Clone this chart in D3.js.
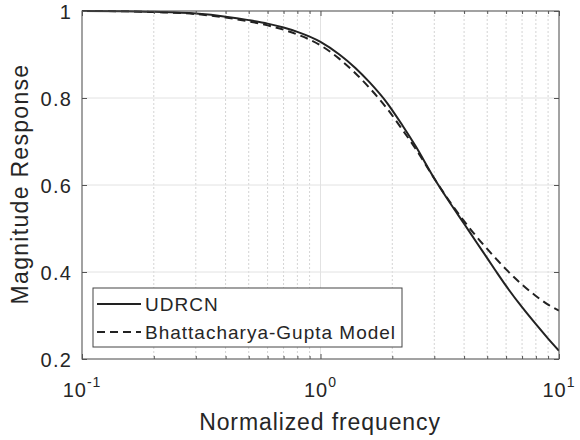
<!DOCTYPE html>
<html>
<head>
<meta charset="utf-8">
<script src="https://cdn.jsdelivr.net/npm/d3@7"></script>
<style>
body { margin: 0; background: #fff; }
text { font-family: "Liberation Sans", Arial, sans-serif; fill: #262626; }
</style>
</head>
<body>
<svg width="580" height="440"></svg>
<script>
// values
var freq    = [0.1, 0.15, 0.2, 0.3, 0.4, 0.5, 0.6, 0.7, 0.8, 1.0, 1.2, 1.4, 1.6, 1.9, 2.2, 2.5, 3.0, 3.5, 4.0, 4.5, 5.0, 5.5, 6.0, 7.0, 8.0, 9.0, 10]
var udrcn   = [1.000, 0.9995, 0.998, 0.994, 0.987, 0.979, 0.971, 0.962, 0.952, 0.929, 0.900, 0.869, 0.837, 0.789, 0.738, 0.690, 0.615, 0.558, 0.511, 0.469, 0.432, 0.398, 0.368, 0.319, 0.280, 0.247, 0.219]
var bgModel = [1.000, 0.9995, 0.9975, 0.993, 0.985, 0.976, 0.967, 0.957, 0.946, 0.921, 0.890, 0.857, 0.824, 0.776, 0.728, 0.684, 0.615, 0.560, 0.517, 0.482, 0.453, 0.428, 0.406, 0.371, 0.345, 0.325, 0.311]

var seriesNames = ["UDRCN", "Bhattacharya-Gupta Model"]
var xTicks = [0.1, 1, 10]
var xTickExp = ["-1", "0", "1"]
var yTicks = [0.2, 0.4, 0.6, 0.8, 1]
var yTickLabels = ["0.2", "0.4", "0.6", "0.8", "1"]
var xTitle = "Normalized frequency"
var yTitle = "Magnitude Response"

var box = {left: 82, right: 559, top: 11, bottom: 359}
var ink = "#222"

var svg = d3.select("svg")

var xscale = d3.scaleLog().domain([0.1, 10]).range([box.left, box.right])
var yscale = d3.scaleLinear().domain([0.2, 1]).range([box.bottom, box.top])

var minorX = xscale.ticks().filter(function(t) { return xTicks.indexOf(t) < 0 })

// grid
var grid = svg.append("g")
grid.selectAll("line.minor")
    .data(minorX)
    .enter()
    .append("line")
    .attr("x1", function(d) { return xscale(d) })
    .attr("x2", function(d) { return xscale(d) })
    .attr("y1", box.top)
    .attr("y2", box.bottom)
    .attr("stroke", "#d4d4d4")
    .attr("stroke-dasharray", "2,2")
grid.selectAll("line.vmaj")
    .data(xTicks)
    .enter()
    .append("line")
    .attr("x1", function(d) { return xscale(d) })
    .attr("x2", function(d) { return xscale(d) })
    .attr("y1", box.top)
    .attr("y2", box.bottom)
    .attr("stroke", "#e2e2e2")
grid.selectAll("line.hmaj")
    .data(yTicks)
    .enter()
    .append("line")
    .attr("x1", box.left)
    .attr("x2", box.right)
    .attr("y1", function(d) { return yscale(d) })
    .attr("y2", function(d) { return yscale(d) })
    .attr("stroke", "#e2e2e2")

// curves
svg.append("clipPath").attr("id", "plot")
    .append("rect")
    .attr("x", box.left).attr("y", box.top - 2)
    .attr("width", box.right - box.left).attr("height", box.bottom - box.top + 2)

var line = function(vals)
{
    return d3.line()
        .x(function(d, i) { return xscale(freq[i]) })
        .y(function(d) { return yscale(d) })
        .curve(d3.curveMonotoneX)(vals)
}

svg.append("path")
    .attr("d", line(bgModel))
    .attr("clip-path", "url(#plot)")
    .attr("fill", "none")
    .attr("stroke", ink)
    .attr("stroke-width", 2)
    .attr("stroke-dasharray", "8,5")

svg.append("path")
    .attr("d", line(udrcn))
    .attr("clip-path", "url(#plot)")
    .attr("fill", "none")
    .attr("stroke", ink)
    .attr("stroke-width", 2)

// ticks on all four sides, pointing inwards
var tickStyle = function(g)
{
    g.select(".domain").remove()
    g.selectAll("line").attr("stroke", "#555")
}
svg.append("g").attr("transform", "translate(0," + box.bottom + ")")
    .call(d3.axisBottom(xscale).tickValues(minorX).tickSize(-3).tickFormat("")).call(tickStyle)
svg.append("g").attr("transform", "translate(0," + box.bottom + ")")
    .call(d3.axisBottom(xscale).tickValues(xTicks).tickSize(-5).tickFormat("")).call(tickStyle)
svg.append("g").attr("transform", "translate(0," + box.top + ")")
    .call(d3.axisTop(xscale).tickValues(minorX).tickSize(-3).tickFormat("")).call(tickStyle)
svg.append("g").attr("transform", "translate(0," + box.top + ")")
    .call(d3.axisTop(xscale).tickValues(xTicks).tickSize(-5).tickFormat("")).call(tickStyle)
svg.append("g").attr("transform", "translate(" + box.left + ",0)")
    .call(d3.axisLeft(yscale).tickValues(yTicks).tickSize(-5).tickFormat("")).call(tickStyle)
svg.append("g").attr("transform", "translate(" + box.right + ",0)")
    .call(d3.axisRight(yscale).tickValues(yTicks).tickSize(-5).tickFormat("")).call(tickStyle)

svg.append("rect")
    .attr("x", box.left).attr("y", box.top)
    .attr("width", box.right - box.left).attr("height", box.bottom - box.top)
    .attr("fill", "none")
    .attr("stroke", "#555")

// tick labels
var xl = svg.selectAll("text.xt")
    .data(xTicks)
    .enter()
    .append("text")
    .attr("x", function(d) { return xscale(d) })
    .attr("y", 397)
    .attr("text-anchor", "middle")
    .style("font-size", "20px")
    .style("letter-spacing", "1px")
xl.append("tspan").text("10")
xl.append("tspan")
    .attr("dy", -10)
    .style("font-size", "14px")
    .text(function(d, i) { return xTickExp[i] })

svg.selectAll("text.yt")
    .data(yTicks)
    .enter()
    .append("text")
    .attr("x", 72)
    .attr("y", function(d) { return yscale(d) + 7.5 })
    .attr("text-anchor", "end")
    .style("font-size", "20px")
    .style("letter-spacing", "1.2px")
    .text(function(d, i) { return yTickLabels[i] })

// axis titles
svg.append("text")
    .attr("x", 320)
    .attr("y", 430)
    .attr("text-anchor", "middle")
    .style("font-size", "23px")
    .style("letter-spacing", "0.9px")
    .text(xTitle)

svg.append("text")
    .attr("transform", "translate(28,184) rotate(-90)")
    .attr("text-anchor", "middle")
    .style("font-size", "23px")
    .style("letter-spacing", "1.3px")
    .text(yTitle)

// legend
var legend = svg.append("g")
legend.append("rect")
    .attr("x", 93).attr("y", 288)
    .attr("width", 309).attr("height", 59)
    .attr("fill", "#fff")
    .attr("stroke", "#444")

var dashes = [null, "8,5"]
seriesNames.forEach(function(name, i)
{
    var ly = 304 + i * 28
    legend.append("line")
        .attr("x1", 97).attr("x2", 141)
        .attr("y1", ly).attr("y2", ly)
        .attr("stroke", ink)
        .attr("stroke-width", 2)
        .attr("stroke-dasharray", dashes[i])
    legend.append("text")
        .attr("x", 145)
        .attr("y", ly + 7)
        .style("font-size", "19px")
        .style("letter-spacing", "1px")
        .text(name)
})
</script>
</body>
</html>
